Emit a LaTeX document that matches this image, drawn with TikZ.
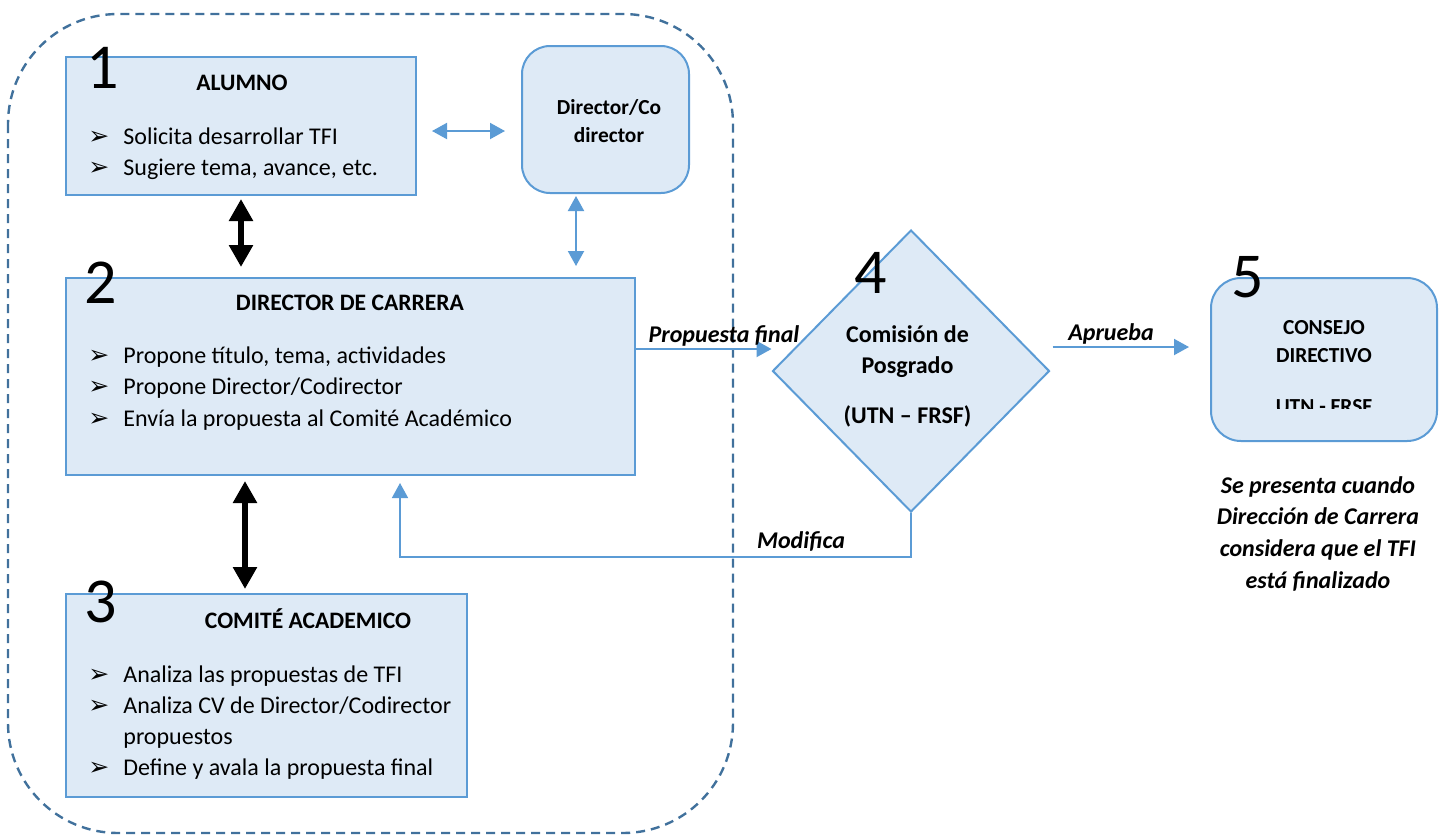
\documentclass[tikz,border=0pt]{standalone}
\usepackage{fontspec}
\setmainfont{Carlito}
\newfontfamily\bulfont{DejaVu Sans}
\usetikzlibrary{shapes.geometric,arrows.meta}
\definecolor{fondo}{HTML}{DEEAF6}
\definecolor{borde}{HTML}{5B9BD5}
\definecolor{punteado}{HTML}{41719C}
\newcommand{\vin}{\makebox[17.5pt][l]{\bulfont\fontsize{12.5}{12}\selectfont ➢}}
\begin{document}
\begin{tikzpicture}[x=0.5pt,y=-0.5pt,
	box_node/.style={rectangle,fill=fondo,draw=borde,line width=1pt,inner sep=0pt},
	round_node/.style={box_node,rounded corners=14pt},
	rombo_node/.style={diamond,fill=fondo,draw=borde,line width=1pt,inner sep=0pt},
	title_node/.style={anchor=base,font=\bfseries\fontsize{11.8}{14}\selectfont,inner sep=0pt},
	small_title/.style={title_node,font=\bfseries\fontsize{10.7}{13}\selectfont},
	item_node/.style={anchor=base west,font=\fontsize{12}{15}\selectfont,inner sep=0pt},
	num_node/.style={anchor=base,font=\fontsize{32}{32}\selectfont,inner sep=0pt},
	label_node/.style={anchor=base,font=\bfseries\itshape\fontsize{12}{15.8}\selectfont,inner sep=0pt},
	blue_arrow/.style={draw=borde,line width=1pt,-{Triangle[length=7.5pt,width=8pt]}},
	blue_both/.style={blue_arrow,{Triangle[length=7.5pt,width=8pt]}-{Triangle[length=7.5pt,width=8pt]}},
	black_both/.style={line width=3pt,{Triangle[length=11pt,width=11.5pt]}-{Triangle[length=11pt,width=11.5pt]}},
	dash_line/.style={draw=punteado,line width=1.2pt,dash pattern=on 4.5pt off 3pt,rounded corners=55pt}]
		
		\useasboundingbox (0,0) rectangle (1442,837);
		\draw[dash_line] (8,14) rectangle (733,833);
		
		% cajas
		\node[box_node,minimum width=175pt,minimum height=69pt] (alumno) at (241,126) {};
		\node[round_node,minimum width=83.5pt,minimum height=73.5pt] (codir) at (605.5,119.5) {};
		\node[box_node,minimum width=284.5pt,minimum height=98.5pt] (carrera) at (350.5,376.5) {};
		\node[box_node,minimum width=200.5pt,minimum height=101.5pt] (comite) at (266.5,695.5) {};
		\node[rombo_node,minimum width=138.5pt,minimum height=141pt] (comision) at (911,371) {};
		\node[round_node,rounded corners=15pt,minimum width=113pt,minimum height=81.5pt] (consejo) at (1324,359.5) {};
		
		% textos
		\node[title_node] (alumno_t) at (242,90) {ALUMNO};
		\node[item_node] (alumno_1) at (88,144) {\vin Solicita desarrollar TFI};
		\node[item_node] (alumno_2) at (88,175) {\vin Sugiere tema, avance, etc.};
		
		\node[small_title] (codir_t1) at (609,114) {Director/Co};
		\node[small_title] (codir_t2) at (609,142) {director};
		
		\node[title_node] (carrera_t) at (350,310) {DIRECTOR DE CARRERA};
		\node[item_node] (carrera_1) at (88,363) {\vin Propone título, tema, actividades};
		\node[item_node] (carrera_2) at (88,394) {\vin Propone Director/Codirector};
		\node[item_node] (carrera_3) at (88,426) {\vin Envía la propuesta al Comité Académico};
		
		\node[title_node] (comite_t) at (308,628) {COMITÉ ACADEMICO};
		\node[item_node] (comite_1) at (88,682) {\vin Analiza las propuestas de TFI};
		\node[item_node] (comite_2) at (88,713) {\vin Analiza CV de Director/Codirector};
		\node[item_node] (comite_2b) at (123,744) {propuestos};
		\node[item_node] (comite_3) at (88,775) {\vin Define y avala la propuesta final};
		
		\node[title_node,font=\bfseries\fontsize{12}{14}\selectfont] (comision_t1) at (907.5,342) {Comisión de};
		\node[title_node,font=\bfseries\fontsize{12}{14}\selectfont] (comision_t2) at (907.5,373) {Posgrado};
		\node[title_node,font=\bfseries\fontsize{12}{14}\selectfont] (comision_t3) at (907.5,423) {(UTN – FRSF)};
		
		\node[small_title] (consejo_t1) at (1324,334) {CONSEJO};
		\node[small_title] (consejo_t2) at (1324,362) {DIRECTIVO};
		\begin{scope}
			\clip (1211,278) rectangle (1437,408);
			\node[small_title] (consejo_t3) at (1324,413) {UTN - FRSF};
		\end{scope}
		
		% numeros
		\node[num_node] (n1) at (103,88) {1};
		\node[num_node] (n2) at (101,303) {2};
		\node[num_node] (n3) at (101,622) {3};
		\node[num_node] (n4) at (871,293) {4};
		\node[num_node] (n5) at (1248,297) {5};
		
		% flechas
		\coordinate (ac) at ([yshift=-2.5pt]alumno.east);
		\draw[blue_both,shorten <=7.5pt,shorten >=8pt] (ac) -- (ac -| codir.west);
		\coordinate (cc) at ([xshift=-14.75pt]codir.south);
		\draw[blue_both,shorten <=1pt,shorten >=5.5pt] (cc) -- (cc |- carrera.north);
		\draw[black_both,shorten <=1.5pt,shorten >=5pt] (alumno.south) -- (carrera.north -| alumno.south);
		\coordinate (cm) at ([xshift=-10.75pt]comite.north);
		\draw[black_both,shorten <=2.5pt,shorten >=2pt] (cm |- carrera.south) -- (cm);
		\coordinate (pf) at ([yshift=13.75pt]carrera.east);
		\draw[blue_arrow] (pf) -- (pf -| comision.west);
		\coordinate (ap) at ([yshift=12pt]comision.east);
		\draw[blue_arrow,shorten <=1pt,shorten >=10.5pt] (ap) -- (ap -| consejo.west);
		\coordinate (md) at ([xshift=24.75pt]carrera.south);
		\draw[blue_arrow,line width=0.8pt,shorten >=3.5pt] (comision.south) -- ++(0,-22pt) -| (md);
		
		\node[label_node] (pf_l) at (724,342) {Propuesta final};
		\node[label_node] (ap_l) at (1111,340) {Aprueba};
		\node[label_node] (md_l) at (801,548) {Modifica};
		\node[label_node,anchor=north,align=center] (nota) at (1318,476) {Se presenta cuando\\Dirección de Carrera\\considera que el TFI\\está finalizado};
		\end{tikzpicture}
\end{document}
